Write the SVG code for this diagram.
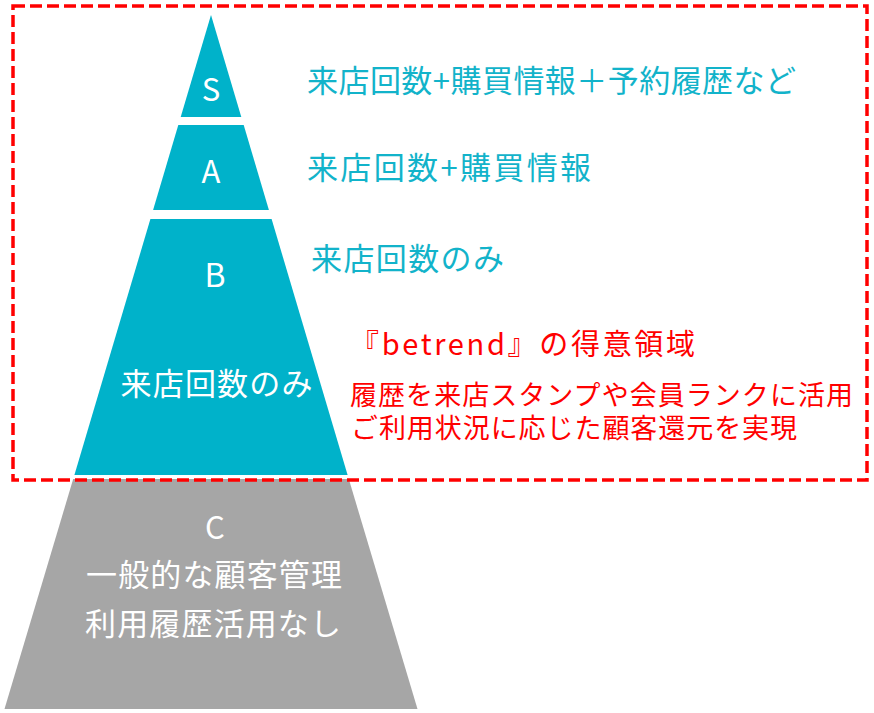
<svg xmlns="http://www.w3.org/2000/svg" width="874" height="713" viewBox="0 0 874 713">
<style>
.teal{fill:#00B2CA}
.gray{fill:#A6A6A6}
text{font-family:"Noto Sans CJK JP","Noto Sans",sans-serif}
.in{fill:#FFFFFF;text-anchor:middle}
.lbl{fill:#12B3CA;font-size:31px}
.red{fill:#FF0000}
</style>
<rect width="874" height="713" fill="#FFFFFF"/>
<g id="tier-s">
<polygon class="teal" points="211,15 241.3,117 180.7,117"/>
<text class="in" x="211" y="101" font-size="31">S</text>
</g>
<g id="tier-a">
<polygon class="teal" points="178.3,125 243.7,125 268.9,210 153.1,210"/>
<text class="in" x="211" y="183" font-size="31">A</text>
</g>
<g id="tier-b">
<polygon class="teal" points="150.4,219 271.6,219 347.6,475 74.4,475"/>
<text class="in" x="215" y="287" font-size="32">B</text>
<text class="in" x="216.5" y="395" font-size="31" textLength="192" lengthAdjust="spacing">来店回数のみ</text>
</g>
<g id="tier-c">
<polygon class="gray" points="73.2,479 348.8,479 417.5,709 4.5,709"/>
<text class="in" x="215" y="539" font-size="31">C</text>
<text class="in" x="214" y="586" font-size="31" textLength="256" lengthAdjust="spacing">一般的な顧客管理</text>
<text class="in" x="213" y="635" font-size="31" textLength="256" lengthAdjust="spacing">利用履歴活用なし</text>
</g>
<g id="labels">
<text class="lbl" x="307" y="92" textLength="489" lengthAdjust="spacing">来店回数+購買情報＋予約履歴など</text>
<text class="lbl" x="307" y="179" textLength="284" lengthAdjust="spacing">来店回数+購買情報</text>
<text class="lbl" x="311" y="270" textLength="193" lengthAdjust="spacing">来店回数のみ</text>
</g>
<g id="betrend-area">
<rect x="13" y="6" width="854" height="474" fill="none" stroke="#FF0000" stroke-width="3.5" stroke-dasharray="12 5"/>
<text class="red" x="350" y="355" font-size="29" textLength="345" lengthAdjust="spacing">『betrend』の得意領域</text>
<text class="red" x="350" y="405" font-size="27" textLength="503" lengthAdjust="spacing">履歴を来店スタンプや会員ランクに活用</text>
<text class="red" x="351" y="438" font-size="27" textLength="446" lengthAdjust="spacing">ご利用状況に応じた顧客還元を実現</text>
</g>
</svg>
